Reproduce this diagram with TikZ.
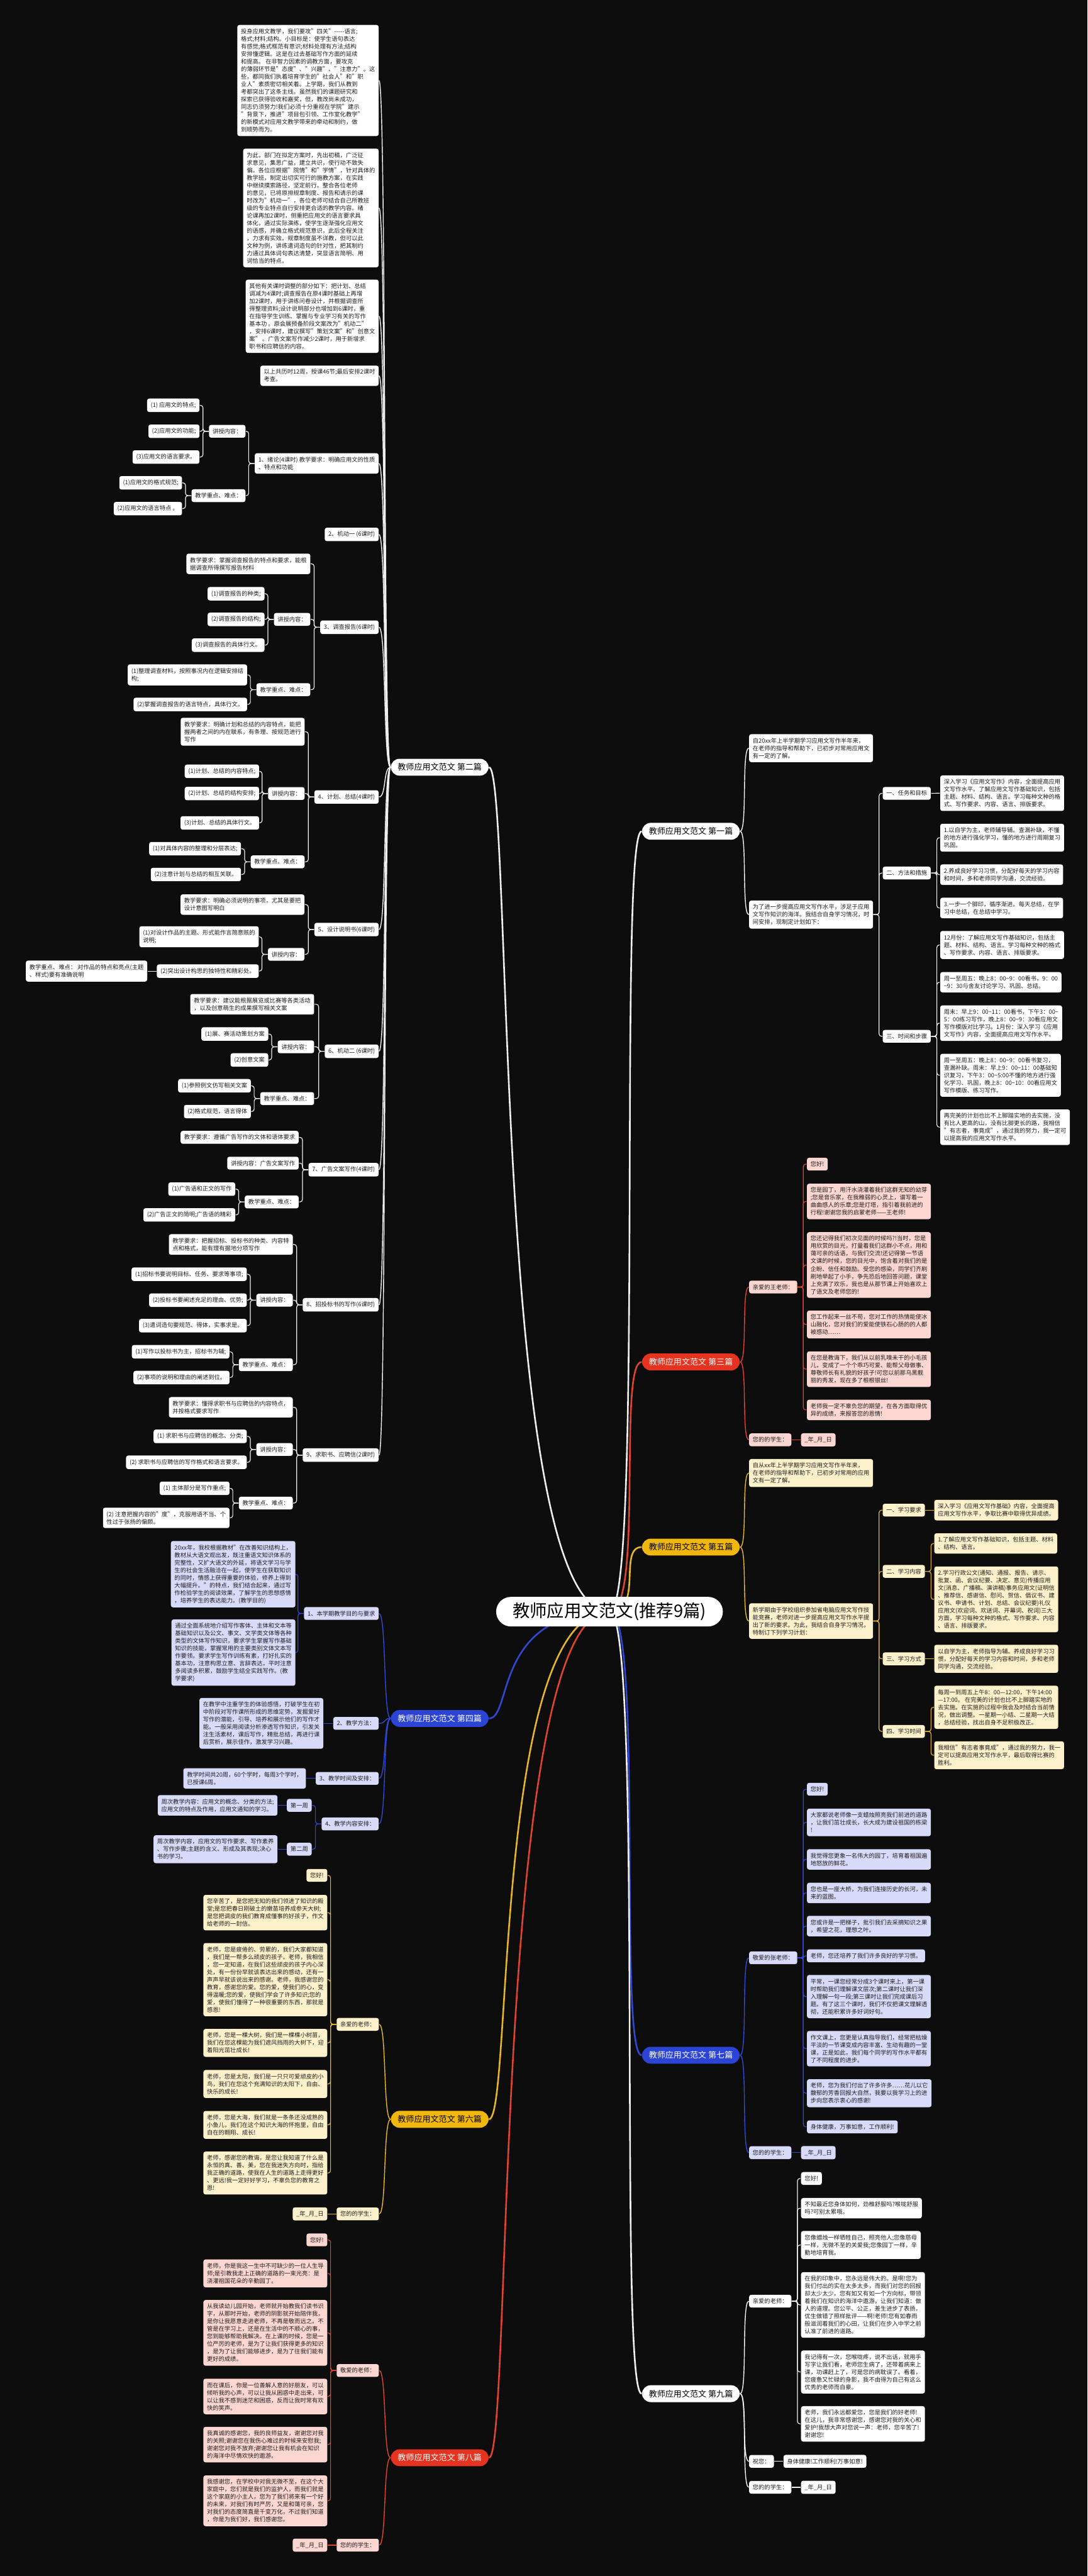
\documentclass[tikz,border=0pt]{standalone}
\usepackage{fontspec}
\setmainfont{Noto Sans CJK SC}
\usetikzlibrary{backgrounds}
\pgfdeclarelayer{bgfill}
\pgfsetlayers{bgfill,background,main}
\definecolor{bgc}{HTML}{0D0D0D}
\definecolor{txt}{HTML}{1E1E1E}
\definecolor{redm}{HTML}{E5331F}
\definecolor{pinkf}{HTML}{FCD7D1}
\definecolor{redl}{HTML}{DE4430}
\definecolor{goldm}{HTML}{F2B70C}
\definecolor{creamf}{HTML}{FDF1CB}
\definecolor{goldl}{HTML}{E6B52C}
\definecolor{bluem}{HTML}{2B44D6}
\definecolor{lavf}{HTML}{D7DAF8}
\definecolor{bluel}{HTML}{3048D2}
\definecolor{whl}{HTML}{EEEEEE}
\newcommand\fsm{\fontsize{3.55}{4.6}\selectfont}
\newcommand\flg{\fontsize{5}{6}\selectfont}
\newcommand\fct{\fontsize{10.5}{12}\selectfont}
\newcommand\tld{\textasciitilde}
\tikzset{
 nb/.style={rounded corners=1.3pt, inner xsep=2.2pt, inner ysep=2.25pt, align=left, font=\fsm, text=txt},
 wn/.style={nb, fill=white},
 rn/.style={nb, fill=pinkf},
 gn/.style={nb, fill=creamf},
 bn/.style={nb, fill=lavf},
 lone/.style={rounded corners=5.3pt, inner xsep=4.2pt, inner ysep=2.8pt, font=\flg},
 lw/.style={lone, fill=white, text=black},
 lr/.style={lone, fill=redm, text=white},
 lg/.style={lone, fill=goldm, text=black},
 lb/.style={lone, fill=bluem, text=white},
 ctrs/.style={fill=white, text=black, font=\fct, rounded corners=9pt, minimum height=18pt, minimum width=138pt, inner sep=2pt},
 kw/.style={draw=whl, line width=0.45pt},
 kr/.style={draw=redl, line width=0.45pt},
 kg/.style={draw=goldl, line width=0.45pt},
 kb/.style={draw=bluel, line width=0.45pt},
 mw/.style={draw=whl, line width=0.55pt},
 mr/.style={draw=redl, line width=0.55pt},
 mg/.style={draw=goldl, line width=0.55pt},
 mb/.style={draw=bluel, line width=0.55pt},
 tw/.style={draw=whl, line width=1pt},
 tr/.style={draw=redl, line width=1pt},
 tg/.style={draw=goldl, line width=1pt},
 tb/.style={draw=bluel, line width=1pt},
}
\newcommand\myL[5]{\node[#1,anchor=east] (#2) at (#3,#4) {#5};}
\newcommand\myR[5]{\node[#1,anchor=west] (#2) at (#3,#4) {#5};}
\newcommand\cbl[3]{\draw[#1,rounded corners=1.5pt] (#2.west) -- ++(-3.5,0) |- (#3.east);}
\newcommand\cbr[3]{\draw[#1,rounded corners=1.5pt] (#2.east) -- ++(3.5,0) |- (#3.west);}
\newcommand\ccl[3]{\draw[#1] (#2.west) .. controls +(-4.5,0) and +(4.5,0) .. (#3.east);}
\newcommand\ccr[3]{\draw[#1] (#2.east) .. controls +(4.5,0) and +(-4.5,0) .. (#3.west);}
\newcommand\csl[3]{\draw[#1] (#2.west) -- (#3.east);}
\newcommand\csr[3]{\draw[#1] (#2.east) -- (#3.west);}
\begin{document}
\begin{tikzpicture}[x=1pt,y=-1pt]
\begin{pgfonlayer}{bgfill}
\fill[bgc] (0,0) rectangle (662,1568);
\end{pgfonlayer}
\useasboundingbox (0,0) rectangle (662,1568);

% ===== centre and level one =====
\node[ctrs] (ctr) at (371,981) {教师应用文范文(推荐9篇)};
\node[lw, anchor=west] (L2) at (237.7,467) {教师应用文范文 第二篇};
\node[lb, anchor=west] (L4) at (237.7,1046) {教师应用文范文 第四篇};
\node[lg, anchor=west] (L6) at (237.7,1290) {教师应用文范文 第六篇};
\node[lr, anchor=west] (L8) at (237.7,1496) {教师应用文范文 第八篇};
\node[lw, anchor=east] (R1) at (450.5,506) {教师应用文范文 第一篇};
\node[lr, anchor=east] (R3) at (450.5,829) {教师应用文范文 第三篇};
\node[lg, anchor=east] (R5) at (450.5,941.7) {教师应用文范文 第五篇};
\node[lb, anchor=east] (R7) at (450.5,1251) {教师应用文范文 第七篇};
\node[lw, anchor=east] (R9) at (450.5,1457) {教师应用文范文 第九篇};

% ===== 第二篇 =====
\myL{wn}{t1}{230.7}{49}{投身应用文教学，我们要攻"四关"-{}-{}-{}-{}-语言;\\格式;材料;结构。小目标是：使学生语句表达\\有感觉;格式框范有意识;材料处理有方法;结构\\安排懂逻辑。这是在过去基础写作方面的延续\\和提高。 在非智力因素的调教方面，要攻克\\的薄弱环节是"态度"、"兴趣"、"注意力"。这\\些，都同我们执着培育学生的"社会人"和"职\\业人"素质密切相关着。上学期，我们从教到\\考都突出了这条主线。虽然我们的课题研究和\\探索已获得验收和嘉奖，但，教改尚未成功，\\同志仍须努力!我们必须十分重视在学院"建示\\"背景下，推进"项目包引领、工作室化教学"\\的新模式对应用文教学带来的牵动和制约，做\\到顺势而为。}
\myL{wn}{t2}{230.7}{126.6}{为此，部门在拟定方案时，先出初稿，广泛征\\求意见，集思广益，建立共识，使行动不致失\\偏。各位应根据"院情"和"学情"，针对具体的\\教学班，制定出切实可行的施教方案，在实践\\中继续摸索路径，坚定前行。整合各位老师\\的意见，已将原排规章制度、报告和请示的课\\时改为"机动一"，各位老师可结合自己所教班\\级的专业特点自行安排更合适的教学内容。绪\\论课再加2课时，侧重把应用文的语言要求具\\体化，通过实际演练，使学生逐渐强化应用文\\的语感，并确立格式规范意识，此后全程关注\\，力求有实效。规章制度虽不详教，但可以此\\文种为例，讲练遣词造句的针对性，把其制约\\力通过具体词句表达清楚，突显语言简明、用\\词恰当的特点。}
\myL{wn}{t3}{230.7}{192.5}{其他有关课时调整的部分如下：把计划、总结\\调减为4课时;调查报告在原4课时基础上再增\\加2课时，用于讲练问卷设计，并根据调查所\\得整理资料;设计说明部分也增加到6课时，重\\在指导学生训练、掌握与专业学习有关的写作\\基本功 。原会展预备阶段文案改为"机动二"\\，安排6课时，建议撰写"策划文案"和"创意文\\案" 。广告文案写作减少2课时，用于新增求\\职书和应聘信的内容。}
\myL{wn}{t4}{230.7}{228.7}{以上共历时12周，授课46节;最后安排2课时\\考查。}

\myL{wn}{a1}{230.7}{282.1}{1、绪论(4课时) 教学要求：明确应用文的性质\\、特点和功能}
\myL{wn}{a1k}{149.6}{262.5}{讲授内容：}
\myL{wn}{a1k1}{121.6}{246.7}{(1) 应用文的特点;}
\myL{wn}{a1k2}{121.6}{262.5}{(2)应用文的功能;}
\myL{wn}{a1k3}{121.6}{278.2}{(3)应用文的语言要求。}
\myL{wn}{a1z}{149.6}{301.7}{教学重点、难点：}
\myL{wn}{a1z1}{111}{293.9}{(1)应用文的格式规范;}
\myL{wn}{a1z2}{111}{309.6}{(2)应用文的语言特点 。}
\myL{wn}{a2}{230.7}{325.3}{2、机动一 (6课时)}
\myL{wn}{a3}{230.7}{381.8}{3、调查报告(6课时)}
\myL{wn}{a3r}{189.1}{343.2}{教学要求：掌握调查报告的特点和要求，能根\\据调查所得撰写报告材料}
\myL{wn}{a3k}{189.1}{377}{讲授内容：}
\myL{wn}{a3k1}{161.2}{361.4}{(1)调查报告的种类;}
\myL{wn}{a3k2}{161.2}{377}{(2)调查报告的结构;}
\myL{wn}{a3k3}{161.2}{392.7}{(3)调查报告的具体行文。}
\myL{wn}{a3z}{189.1}{419.8}{教学重点、难点：}
\myL{wn}{a3z1}{150.6}{410.8}{(1)整理调查材料，按照事况内在逻辑安排结\\构;}
\myL{wn}{a3z2}{150.6}{428.8}{(2)掌握调查报告的语言特点，具体行文。}
\myL{wn}{a4}{230.7}{485.1}{4、计划、总结(4课时)}
\myL{wn}{a4r}{185.6}{445.4}{教学要求：明确计划和总结的内容特点，能把\\握两者之间的内在联系，有条理、按规范进行\\写作}
\myL{wn}{a4k}{185.6}{483}{讲授内容：}
\myL{wn}{a4k1}{157.9}{469.5}{(1)计划、总结的内容特点;}
\myL{wn}{a4k2}{157.9}{483}{(2)计划、总结的结构安排;}
\myL{wn}{a4k3}{157.9}{500.9}{(3)计划、总结的具体行文。}
\myL{wn}{a4z}{185.6}{524.6}{教学重点、难点：}
\myL{wn}{a4z1}{146.9}{516.6}{(1)对具体内容的整理和分层表达;}
\myL{wn}{a4z2}{146.9}{532.3}{(2)注意计划与总结的相互关联。}
\myL{wn}{a5}{230.7}{565.8}{5、设计说明书(6课时)}
\myL{wn}{a5r}{185.5}{550.6}{教学要求：明确必须说明的事项，尤其是要把\\设计意图写明白}
\myL{wn}{a5k}{185.5}{580.9}{讲授内容：}
\myL{wn}{a5k1}{157.7}{570.2}{(1)对设计作品的主题、形式能作言简意赅的\\说明;}
\myL{wn}{a5k2}{157.7}{591.1}{(2)突出设计构思的独特性和精彩处。}
\myL{wn}{a5x}{89.8}{591.1}{教学重点、难点： 对作品的特点和亮点(主题\\、样式)要有准确说明}
\myL{wn}{a6}{230.7}{639.9}{6、机动二 (6课时)}
\myL{wn}{a6r}{191.4}{611.3}{教学要求：建议能根据展览或比赛等各类活动\\，以及创意萌生的成果撰写相关文案}
\myL{wn}{a6k}{191.4}{637.2}{讲授内容：}
\myL{wn}{a6k1}{163.5}{629.4}{(1)展、赛活动策划方案}
\myL{wn}{a6k2}{163.5}{645.2}{(2)创意文案}
\myL{wn}{a6z}{191.4}{668.7}{教学重点、难点：}
\myL{wn}{a6z1}{152.9}{660.9}{(1)参照例文仿写相关文案}
\myL{wn}{a6z2}{152.9}{676.6}{(2)格式规范，语言得体}
\myL{wn}{a7}{230.7}{712}{7、广告文案写作(4课时)}
\myL{wn}{a7r}{182}{692.3}{教学要求：遵循广告写作的文体和语体要求}
\myL{wn}{a7k}{182}{708}{讲授内容：广告文案写作}
\myL{wn}{a7z}{182}{731.6}{教学重点、难点：}
\myL{wn}{a7z1}{143.4}{723.8}{(1)广告语和正文的写作}
\myL{wn}{a7z2}{143.4}{739.5}{(2)广告正文的简明;广告语的精彩}
\myL{wn}{a8}{230.7}{794.2}{8、招投标书的写作(6课时)}
\myL{wn}{a8r}{178.4}{757.5}{教学要求：把握招标、投标书的种类、内容特\\点和格式，能有理有据地分项写作}
\myL{wn}{a8k}{178.4}{791.4}{讲授内容：}
\myL{wn}{a8k1}{150.4}{775.6}{(1)招标书要说明目标、任务、要求等事项;}
\myL{wn}{a8k2}{150.4}{791.4}{(2)投标书要阐述充足的理由、优势;}
\myL{wn}{a8k3}{150.4}{806.9}{(3)遣词造句要规范、得体，实事求是。}
\myL{wn}{a8z}{178.4}{830.7}{教学重点、难点：}
\myL{wn}{a8z1}{139.9}{822.8}{(1)写作以投标书为主，招标书为辅;}
\myL{wn}{a8z2}{139.9}{838.5}{(2)事项的说明和理由的阐述到位。}
\myL{wn}{a9}{230.7}{885.7}{9、求职书、应聘信(2课时)}
\myL{wn}{a9r}{178.4}{856.6}{教学要求：懂得求职书与应聘信的内容特点，\\并按格式要求写作}
\myL{wn}{a9k}{178.4}{882.3}{讲授内容：}
\myL{wn}{a9k1}{150.4}{874.3}{(1) 求职书与应聘信的概念、分类;}
\myL{wn}{a9k2}{150.4}{890.1}{(2) 求职书与应聘信的写作格式和语言要求。}
\myL{wn}{a9z}{178.4}{914.9}{教学重点、难点：}
\myL{wn}{a9z1}{139.9}{905.9}{(1) 主体部分是写作重点;}
\myL{wn}{a9z2}{139.9}{923.9}{(2) 注意把握内容的"度"，克服用语不当、个\\性过于张扬的偏颇。}

% ===== 第四篇 =====
\myL{bn}{b1}{230.7}{982.1}{1、本学期教学目的与要求}
\myL{bn}{b1a}{180}{958.2}{20xx年，我校根据教材"在改善知识结构上，\\教材从大语文观出发，既注重语文知识体系的\\完整性，又扩大语文的外延，将语文学习与学\\生的社会生活融洽在一起，使学生在获取知识\\的同时，情感上获得重要的体验，修养上得到\\大幅提升。"的特点，我们结合起来，通过写\\作检验学生的阅读效果，了解学生的思想感情\\，培养学生的表达能力。(教学目的)}
\myL{bn}{b1b}{180}{1005.9}{通过全面系统地介绍写作客体、主体和文本等\\基础知识以及公文、事文、文学类文体等各种\\类型的文体写作知识，要求学生掌握写作基础\\知识的技能，掌握常用的主要类别文体文本写\\作要领。要求学生写作训练有素，打好扎实的\\基本功，注意构思立意、言辞表达，平时注意\\多阅读多积累，鼓励学生结全实践写作。(教\\学要求)}
\myL{bn}{b2}{230.7}{1049}{2、教学方法：}
\myL{bn}{b2a}{197}{1049}{在教学中注重学生的体验感悟，打破学生在初\\中阶段对写作课所形成的思维定势，发掘爱好\\写作的潜能，引导、培养和展示他们的写作才\\能。一般采用阅读分析渗透写作知识，引发关\\注生活素材，课后写作，精批总结，再进行课\\后赏析，展示佳作，激发学习兴趣。}
\myL{bn}{b3}{230.7}{1082.5}{3、教学时间及安排：}
\myL{bn}{b3a}{186.4}{1082.5}{教学时间共20周，60个学时，每周3个学时，\\已授课6周。}
\myL{bn}{b4}{230.7}{1110.2}{4、教学内容安排：}
\myL{bn}{b41}{189.9}{1098.9}{第一周}
\myL{bn}{b41a}{169.1}{1098.9}{周次教学内容：应用文的概念、分类的方法;\\应用文的特点及作用，应用文通知的学习。}
\myL{bn}{b42}{189.9}{1125.6}{第二周}
\myL{bn}{b42a}{169.1}{1125.6}{周次教学内容，应用文的写作要求、写作素养\\、写作步骤;主题的含义、形成及其表现;决心\\书的学习。}

% ===== 第六篇 =====
\myL{gn}{c1}{230.8}{1232.2}{亲爱的老师：}
\myL{gn}{c1a}{199.4}{1141.5}{您好!}
\myL{gn}{c1b}{199.4}{1164.2}{您辛苦了，是您把无知的我们领进了知识的殿\\堂;是您把春日刚破土的嫩苗培养成参天大树;\\是您把调皮的我们教育成懂事的好孩子，作文\\给老师的一封信。}
\myL{gn}{c1c}{199.4}{1205}{老师，您是疲倦的、劳累的，我们大家都知道\\，我们是一帮多么顽皮的孩子。老师，我相信\\，您一定知道，在我们这些顽皮的孩子内心深\\处，有一份份早就该表达出来的感动，还有一\\声声早就该说出来的感谢。老师，我感谢您的\\教育，感谢您的爱。您的爱，使我们的心，变\\得温暖;您的爱，使我们学会了许多知识;您的\\爱，使我们懂得了一种很重要的东西，那就是\\感恩!}
\myL{gn}{c1d}{199.4}{1243.5}{老师，您是一棵大树，我们是一棵棵小树苗，\\我们在您这棵能为我们遮风挡雨的大树下，迎\\着阳光茁壮成长!}
\myL{gn}{c1e}{199.4}{1268.5}{老师，您是太阳，我们是一只只可爱顽皮的小\\鸟，我们在您这个充满知识的太阳下，自由、\\快乐的成长!}
\myL{gn}{c1f}{199.4}{1293.4}{老师，您是大海，我们就是一条条还没成熟的\\小鱼儿，我们在这个知识大海的怀抱里，自由\\自在的翱翔、成长!}
\myL{gn}{c1g}{199.4}{1322.7}{老师，感谢您的教诲，是您让我知道了什么是\\永恒的真、善、美，您在我迷失方向时，指给\\我正确的道路，使我在人生的道路上走得更好\\、更远!我一定好好学习，不辜负您的教育之\\恩!}
\myL{gn}{c2}{230.8}{1347.6}{您的的学生：}
\myL{gn}{c2a}{199.4}{1347.6}{\_年\_月\_日}

% ===== 第八篇 =====
\myL{rn}{d1}{230.8}{1442.9}{敬爱的老师：}
\myL{rn}{d1a}{199.4}{1363.4}{您好!}
\myL{rn}{d1b}{199.4}{1383.8}{老师，你是我这一生中不可缺少的一位人生导\\师;是引教我走上正确的道路的一束光亮：是\\浇灌祖国花朵的辛勤园丁。}
\myL{rn}{d1c}{199.4}{1420}{从我读幼儿园开始，老师就开始教我们读书识\\字，从那时开始，老师的阴影就开始陪伴我，\\是你让我愿意走进老师，不再是敬而远之。不\\管是在学习上，还是在生活中的不顺心的事，\\您到能够帮助我解决。在上课的时候，您是一\\位严厉的老师，是为了让我们获得更多的知识\\，是为了让我们能够进步，是为了往我们能有\\更好的成绩。}
\myL{rn}{d1d}{199.4}{1458.7}{而在课后，你是一位善解人意的好朋友，可以\\倾听我的心声，可以让我从困惑中走出来，可\\以让我不感到迷茫和困惑，反而让我时常有欢\\快的笑声。}
\myL{rn}{d1e}{199.4}{1488}{我真诚的感谢您，我的良师益友，谢谢您对我\\的关照;谢谢您在我伤心难过的时候来安慰我;\\谢谢您对我不放弃;谢谢您让我有机会在知识\\的海洋中尽情欢快的遨游。}
\myL{rn}{d1f}{199.4}{1522.2}{我感谢您，在学校中对我无微不至，在这个大\\家庭中，您们就是我们的监护人，而我们就是\\这个家庭的小主人，您为了我们将来有一个好\\的未来，对我们有时严厉，又是和蔼可亲，您\\对我们的态度简直是千变万化，不过我们知道\\，你是为我们好，我们感谢您。}
\myL{rn}{d2}{230.8}{1549.2}{您的的学生：}
\myL{rn}{d2a}{199.4}{1549.2}{\_年\_月\_日}

% ===== 第一篇 =====
\myR{wn}{e1}{455.8}{455.4}{自20xx年上半学期学习应用文写作半年来，\\在老师的指导和帮助下，已初步对常用应用文\\有一定的了解。}
\myR{wn}{e2}{455.8}{556.7}{为了进一步提高应用文写作水平，涉足于应用\\文写作知识的海洋。我结合自身学习情况，时\\间安排，现制定计划如下：}
\myR{wn}{e21}{537.1}{482.9}{一、任务和目标}
\myR{wn}{e21a}{572.1}{482.8}{深入学习《应用文写作》内容，全面提高应用\\文写作水平。了解应用文写作基础知识，包括\\主题、材料、结构、语言。学习每种文种的格\\式、写作要求、内容、语言、排版要求。}
\myR{wn}{e22}{537.1}{531.4}{二、方法和措施}
\myR{wn}{e22a}{572.1}{509.9}{1.以自学为主，老师辅导辅。查漏补缺，不懂\\的地方进行强化学习，懂的地方进行周期复习\\巩固。}
\myR{wn}{e22b}{572.1}{532.4}{2.养成良好学习习惯，分配好每天的学习内容\\和时间，多和老师同学沟通，交流经验。}
\myR{wn}{e22c}{572.1}{552.7}{3.一步一个脚印，循序渐进。每天总结，在学\\习中总结，在总结中学习。}
\myR{wn}{e23}{537.1}{630.8}{三、时间和步骤}
\myR{wn}{e23a}{572.1}{575.2}{12月份：了解应用文写作基础知识，包括主\\题、材料、结构、语言。学习每种文种的格式\\、写作要求、内容、语言、排版要求。}
\myR{wn}{e23b}{572.1}{597.9}{周一至周五：晚上8：00\tld9：00看书，9：00\\\tld9：30与舍友讨论学习、巩固、总结。}
\myR{wn}{e23c}{572.1}{622.8}{周末：早上9：00\tld11：00看书，下午3：00\tld\\5：00练习写作，晚上8：00\tld9：30看应用文\\写作模版对比学习。1月份：深入学习《应用\\文写作》内容，全面提高应用文写作水平。}
\myR{wn}{e23d}{572.1}{654.5}{周一至周五：晚上8：00\tld9：00看书复习，\\查漏补缺。周末：早上9：00\tld11：00基础知\\识复习，下午3：00\tld5:00不懂的地方进行强\\化学习、巩固，晚上8：00\tld10：00看应用文\\写作模版、练习写作。}
\myR{wn}{e23e}{572.1}{686.1}{再完美的计划也比不上脚踏实地的去实施，没\\有比人更高的山，没有比脚更长的路，我相信\\"有志者，事竟成"，通过我的努力，我一定可\\以提高我的应用文写作水平。}

% ===== 第三篇 =====
\myR{rn}{f1}{455.8}{783.4}{亲爱的王老师：}
\myR{rn}{f1a}{491}{708.6}{您好!}
\myR{rn}{f1b}{491}{731.3}{您是园丁，用汗水浇灌着我们这群无知的幼芽\\;您是音乐家，在我稚弱的心灵上，谱写着一\\曲曲感人的乐章;您是灯塔，指引着我前进的\\行程!谢谢您我的启蒙老师——王老师!}
\myR{rn}{f1c}{491}{770}{您还记得我们初次见面的时候吗?!当时，您是\\用欣赏的目光，打量着我们这群小不点，用和\\蔼可亲的话语，与我们交流!还记得第一节语\\文课的时候，您的目光中，饱含着对我们的是\\企盼、信任和鼓励。受您的感染，同学们齐刷\\刷地举起了小手，争先恐后地回答问题，课堂\\上充满了欢乐，我也是从那节课上开始喜欢上\\了语文及老师您的!}
\myR{rn}{f1d}{491}{806.2}{您工作起来一丝不苟，您对工作的热情能使冰\\山融化，您对我们的爱能使铁石心肠的的人都\\被感动……}
\myR{rn}{f1e}{491}{833.4}{在您是教诲下，我们从以前乳嗅未干的小毛孩\\儿，变成了一个个乖巧可爱、能帮父母做事、\\尊敬师长有礼貌的好孩子!可您以前那乌黑靓\\丽的秀发，现在多了根根银丝!}
\myR{rn}{f1f}{491}{858.2}{老师我一定不辜负您的期望，在各方面取得优\\异的成绩，来报答您的恩情!}
\myR{rn}{f2}{455.8}{876.4}{您的的学生：}
\myR{rn}{f2a}{487.4}{876.4}{\_年\_月\_日}

% ===== 第五篇 =====
\myR{gn}{g1}{455.8}{896.6}{自从xx年上半学期学习应用文写作半年来，\\在老师的指导和帮助下，已初步对常用的应用\\文有一定了解。}
\myR{gn}{g2}{455.8}{986.7}{新学期由于学校组织参加省电脑应用文写作技\\能竞赛，老师对进一步提高应用文写作水平提\\出了新的要求。为此，我结合自身学习情况，\\特制订下列学习计划：}
\myR{gn}{g21}{537.1}{919.2}{一、学习要求}
\myR{gn}{g21a}{568.5}{919.2}{深入学习《应用文写作基础》内容，全面提高\\应用文写作水平，争取比赛中取得优异成绩。}
\myR{gn}{g22}{537.1}{956.5}{二、学习内容}
\myR{gn}{g22a}{568.5}{939.5}{1.了解应用文写作基础知识，包括主题、材料\\、结构、语言。}
\myR{gn}{g22b}{568.5}{973.5}{2.学习行政公文(通知、通报、报告、请示、\\批复、函、会议纪要、决定、意见)传播应用\\文(消息、广播稿、演讲稿)事务应用文(证明信\\、推荐信、感谢信、慰问、贺信、倡议书、建\\议书、申请书、计划、总结、会议纪要)礼仪\\应用文(欢迎词、欢送词、开幕词、祝词)三大\\方面，学习每种文种的格式、写作要求、内容\\、语言、排版要求。}
\myR{gn}{g23}{537.1}{1009.7}{三、学习方式}
\myR{gn}{g23a}{568.5}{1009.7}{以自学为主，老师指导为辅。养成良好学习习\\惯，分配好每天的学习内容和时间，多和老师\\同学沟通，交流经验。}
\myR{gn}{g24}{537.1}{1053.9}{四、学习时间}
\myR{gn}{g24a}{568.5}{1039.2}{每周一到周五上午8：00—12:00，下午14:00\\—17:00。 在完美的计划也比不上脚踏实地的\\去实施。在实施的过程中我会及时结合当前情\\况，做出调整。一星期一小结、二星期一大结\\，总结经验，找出自身不足积极改正。}
\myR{gn}{g24b}{568.5}{1068.4}{我相信"有志者事竟成"，通过我的努力，我一\\定可以提高应用文写作水平，最后取得比赛的\\胜利。}

% ===== 第七篇 =====
\myR{bn}{h1}{455.8}{1191.7}{敬爱的张老师：}
\myR{bn}{h1a}{491}{1089.1}{您好!}
\myR{bn}{h1b}{491}{1109.3}{大家都说老师像一支蜡烛照亮我们前进的道路\\，让我们茁壮成长，长大成为建设祖国的栋梁\\!}
\myR{bn}{h1c}{491}{1131.8}{我觉得您更象一名伟大的园丁，培育着祖国遍\\地怒放的鲜花。}
\myR{bn}{h1d}{491}{1152.2}{您也是一座大桥，为我们连接历史的长河，未\\来的蓝图。}
\myR{bn}{h1e}{491}{1172.4}{您或许是一把梯子，批引我们去采摘知识之果\\，希望之花，理想之叶。}
\myR{bn}{h1f}{491}{1190.5}{老师，您还培养了我们许多良好的学习惯。}
\myR{bn}{h1g}{491}{1215.3}{平常，一课您经常分成3个课时来上，第一课\\时帮助我们理解课文层次;第二课时让我们深\\入理解一句一段;第三课时让我们完成课后习\\题。有了这三个课时，我们不仅把课文理解透\\彻，还能积累许多好词好句。}
\myR{bn}{h1h}{491}{1247}{作文课上，您更是认真指导我们，经常把枯燥\\平淡的一节课变成内容丰富、生动有趣的一堂\\课，正是如此，我们每个同学的写作水平都有\\了不同程度的进步。}
\myR{bn}{h1i}{491}{1274.1}{老师，您为我们付出了许多许多……花儿以它\\馥郁的芳香回报大自然，我要以我学习上的进\\步向您表示衷心的感谢!}
\myR{bn}{h1j}{491}{1294.6}{身体健康，万事如意，工作顺利!}
\myR{bn}{h2}{455.8}{1310.3}{您的的学生：}
\myR{bn}{h2a}{487.4}{1310.3}{\_年\_月\_日}

% ===== 第九篇 =====
\myR{wn}{i1}{455.8}{1400.7}{亲爱的老师：}
\myR{wn}{i1a}{487.4}{1326}{您好!}
\myR{wn}{i1b}{487.4}{1344.1}{不知最近您身体如何，劲椎舒服吗?喉咙舒服\\吗?可别太累哦。}
\myR{wn}{i1c}{487.4}{1366.5}{您像蜡烛一样牺牲自己，照亮他人;您像慈母\\一样，无微不至的关爱我;您像园丁一样，辛\\勤地培育我。}
\myR{wn}{i1d}{487.4}{1403}{在我的印象中，您永远是伟大的。是啊!您为\\我们付出的实在太多太多，而我们对您的回报\\却太少太少。您有如又有如一个方向标，带领\\着我们在知识的海洋中遨游。让我们知道：做\\人的道理。您公平、公正，差生进步了表扬，\\优生做错了照样批评——啊!老师!您有如春雨\\般滋润着我们的心田，让我们在步入中学之前\\认准了前进的道路。}
\myR{wn}{i1e}{487.4}{1443.8}{我记得有一次，您喉咙疼，说不出话，就用手\\写字让我们看，老师您生病了，还带着病来上\\课，功课赶上了，可是您的病耽误了。看着，\\您疲惫又忙碌的身影，我不由得为自己有这么\\优秀的老师而自豪。}
\myR{wn}{i1f}{487.4}{1475.4}{老师，我们永远都爱您，您是我们的好老师!\\在这儿，我非常感谢您，感谢您对我的关心和\\爱护!我想大声对您说一声：老师，您辛苦了!\\谢谢您!}
\myR{wn}{i2}{455.8}{1498.2}{祝您：}
\myR{wn}{i2a}{476.7}{1498.2}{身体健康!工作顺利!万事如意!}
\myR{wn}{i3}{455.8}{1514}{您的的学生：}
\myR{wn}{i3a}{487.4}{1514}{\_年\_月\_日}

% ===== connectors =====
\begin{pgfonlayer}{background}
\draw[tw] (ctr.center) .. controls (300,981) and (312,467) .. (L2.east);
\draw[tb] (ctr.center) .. controls (300,981) and (312,1046) .. (L4.east);
\draw[tg] (ctr.center) .. controls (300,981) and (312,1290) .. (L6.east);
\draw[tr] (ctr.center) .. controls (300,981) and (312,1496) .. (L8.east);
\draw[tw] (ctr.center) .. controls (392,981) and (376,506) .. (R1.west);
\draw[tr] (ctr.center) .. controls (392,981) and (376,829) .. (R3.west);
\draw[tg] (ctr.center) .. controls (392,981) and (376,941.7) .. (R5.west);
\draw[tb] (ctr.center) .. controls (392,981) and (376,1251) .. (R7.west);
\draw[tw] (ctr.center) .. controls (392,981) and (376,1457) .. (R9.west);

\foreach \x in {t1,t2,t3,t4,a1,a2,a3,a4,a5,a6,a7,a8,a9} {\ccl{mw}{L2}{\x}}
\foreach \x in {a1k,a1z} {\cbl{kw}{a1}{\x}}
\foreach \x in {a1k1,a1k2,a1k3} {\cbl{kw}{a1k}{\x}}
\foreach \x in {a1z1,a1z2} {\cbl{kw}{a1z}{\x}}
\foreach \x in {a3r,a3k,a3z} {\cbl{kw}{a3}{\x}}
\foreach \x in {a3k1,a3k2,a3k3} {\cbl{kw}{a3k}{\x}}
\foreach \x in {a3z1,a3z2} {\cbl{kw}{a3z}{\x}}
\foreach \x in {a4r,a4k,a4z} {\cbl{kw}{a4}{\x}}
\foreach \x in {a4k1,a4k2,a4k3} {\cbl{kw}{a4k}{\x}}
\foreach \x in {a4z1,a4z2} {\cbl{kw}{a4z}{\x}}
\foreach \x in {a5r,a5k} {\cbl{kw}{a5}{\x}}
\foreach \x in {a5k1,a5k2} {\cbl{kw}{a5k}{\x}}
\csl{kw}{a5k2}{a5x}
\foreach \x in {a6r,a6k,a6z} {\cbl{kw}{a6}{\x}}
\foreach \x in {a6k1,a6k2} {\cbl{kw}{a6k}{\x}}
\foreach \x in {a6z1,a6z2} {\cbl{kw}{a6z}{\x}}
\foreach \x in {a7r,a7k,a7z} {\cbl{kw}{a7}{\x}}
\foreach \x in {a7z1,a7z2} {\cbl{kw}{a7z}{\x}}
\foreach \x in {a8r,a8k,a8z} {\cbl{kw}{a8}{\x}}
\foreach \x in {a8k1,a8k2,a8k3} {\cbl{kw}{a8k}{\x}}
\foreach \x in {a8z1,a8z2} {\cbl{kw}{a8z}{\x}}
\foreach \x in {a9r,a9k,a9z} {\cbl{kw}{a9}{\x}}
\foreach \x in {a9k1,a9k2} {\cbl{kw}{a9k}{\x}}
\foreach \x in {a9z1,a9z2} {\cbl{kw}{a9z}{\x}}

\foreach \x in {b1,b2,b3,b4} {\ccl{mb}{L4}{\x}}
\foreach \x in {b1a,b1b} {\cbl{kb}{b1}{\x}}
\csl{kb}{b2}{b2a}
\csl{kb}{b3}{b3a}
\foreach \x in {b41,b42} {\cbl{kb}{b4}{\x}}
\csl{kb}{b41}{b41a}
\csl{kb}{b42}{b42a}

\foreach \x in {c1,c2} {\ccl{mg}{L6}{\x}}
\foreach \x in {c1a,c1b,c1c,c1d,c1e,c1f,c1g} {\cbl{kg}{c1}{\x}}
\csl{kg}{c2}{c2a}

\foreach \x in {d1,d2} {\ccl{mr}{L8}{\x}}
\foreach \x in {d1a,d1b,d1c,d1d,d1e,d1f} {\cbl{kr}{d1}{\x}}
\csl{kr}{d2}{d2a}

\foreach \x in {e1,e2} {\ccr{mw}{R1}{\x}}
\foreach \x in {e21,e22,e23} {\cbr{kw}{e2}{\x}}
\csr{kw}{e21}{e21a}
\foreach \x in {e22a,e22b,e22c} {\cbr{kw}{e22}{\x}}
\foreach \x in {e23a,e23b,e23c,e23d,e23e} {\cbr{kw}{e23}{\x}}

\foreach \x in {f1,f2} {\ccr{mr}{R3}{\x}}
\foreach \x in {f1a,f1b,f1c,f1d,f1e,f1f} {\cbr{kr}{f1}{\x}}
\csr{kr}{f2}{f2a}

\foreach \x in {g1,g2} {\ccr{mg}{R5}{\x}}
\foreach \x in {g21,g22,g23,g24} {\cbr{kg}{g2}{\x}}
\csr{kg}{g21}{g21a}
\foreach \x in {g22a,g22b} {\cbr{kg}{g22}{\x}}
\csr{kg}{g23}{g23a}
\foreach \x in {g24a,g24b} {\cbr{kg}{g24}{\x}}

\foreach \x in {h1,h2} {\ccr{mb}{R7}{\x}}
\foreach \x in {h1a,h1b,h1c,h1d,h1e,h1f,h1g,h1h,h1i,h1j} {\cbr{kb}{h1}{\x}}
\csr{kb}{h2}{h2a}

\foreach \x in {i1,i2,i3} {\ccr{mw}{R9}{\x}}
\foreach \x in {i1a,i1b,i1c,i1d,i1e,i1f} {\cbr{kw}{i1}{\x}}
\csr{kw}{i2}{i2a}
\csr{kw}{i3}{i3a}
\end{pgfonlayer}
\end{tikzpicture}
\end{document}
